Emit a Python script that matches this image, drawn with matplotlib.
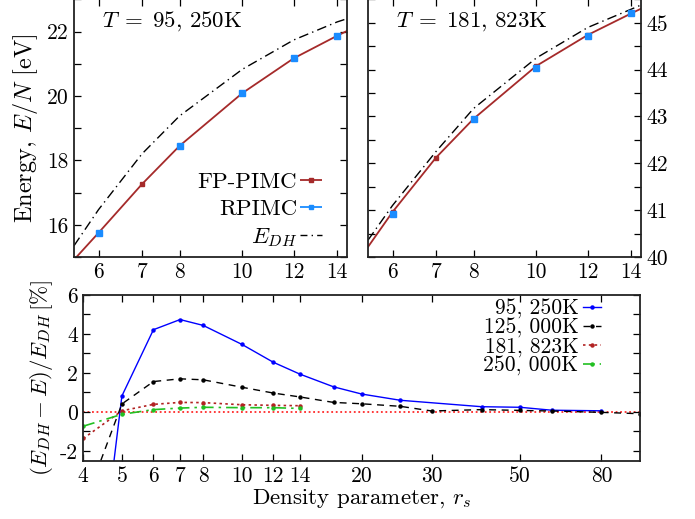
import matplotlib
matplotlib.use("Agg")
import matplotlib.pyplot as plt
from matplotlib.ticker import FixedLocator, NullLocator, FixedFormatter, NullFormatter

plt.rcParams["font.family"] = "serif"
plt.rcParams["font.serif"] = ["cmr10"]
plt.rcParams["mathtext.fontset"] = "cm"
plt.rcParams["axes.unicode_minus"] = False
plt.rcParams["axes.formatter.use_mathtext"] = True

# ---- energies per particle [eV] ----
rs_fp = [5, 6, 7, 8, 10, 12, 14, 17]
fp_95 = [14.0, 15.75, 17.26, 18.45, 20.09, 21.17, 21.87, 22.7]
fp_181 = [39.4, 40.96, 42.12, 42.95, 44.08, 44.74, 45.20, 45.76]

rs_rp = [6, 8, 10, 12, 14]
rp_95 = [15.73, 18.45, 20.09, 21.18, 21.87]
rp_181 = [40.92, 42.95, 44.03, 44.72, 45.21]

rs_dh = [5.5, 6, 7, 8, 10, 12, 14, 14.5]
dh_95 = [15.35, 16.47, 18.2, 19.38, 20.83, 21.74, 22.3, 22.4]
dh_181 = [40.36, 41.1, 42.25, 43.17, 44.25, 44.9, 45.29, 45.38]

# ---- relative deviation from Debye-Hueckel [%] ----
rs_95 = [4, 5, 6, 7, 8, 10, 12, 14, 17, 20, 25, 40, 50, 60, 80]
dev_95 = [-15.4, 0.82, 4.22, 4.74, 4.44, 3.47, 2.55, 1.94, 1.29, 0.92, 0.60, 0.27, 0.24, 0.09, 0.06]
rs_125 = [4, 5, 6, 7, 8, 10, 12, 14, 17, 20, 25, 30, 40, 50, 60, 80, 100]
dev_125 = [-4.9, 0.41, 1.56, 1.70, 1.65, 1.27, 0.97, 0.77, 0.49, 0.42, 0.29, 0.05, 0.12, 0.08, 0.05, -0.02, -0.09]
rs_181 = [4, 5, 6, 7, 8, 10, 12, 14]
dev_181 = [-1.36, 0.06, 0.39, 0.49, 0.48, 0.37, 0.34, 0.32]
rs_250 = [4, 5, 6, 7, 8, 10, 12, 14]
dev_250 = [-0.73, -0.12, 0.12, 0.20, 0.24, 0.22, 0.22, 0.18]

top_xticks = [6, 7, 8, 10, 12, 14]
bot_xticks = [4, 5, 6, 7, 8, 10, 12, 14, 20, 30, 50, 80]
left_yticks = [16, 18, 20, 22]
right_yticks = [40, 41, 42, 43, 44, 45]
dev_yticks = [-2, 0, 2, 4, 6]

C_FP = "#a52a2a"
C_RP = "#1a8cff"
TICK_FS = 15.5
TEXT_FS = 16.5

W, H = 695, 519
fig = plt.figure(figsize=(W / 100, H / 100), dpi=100)


def box(x0, y0, x1, y1):
    return [x0 / W, (H - y1) / H, (x1 - x0) / W, (y1 - y0) / H]


def style(ax, xt, yt, yminor, right=False):
    ax.set_xscale("log")
    ax.xaxis.set_major_locator(FixedLocator(xt))
    ax.xaxis.set_major_formatter(FixedFormatter([str(v) for v in xt]))
    ax.xaxis.set_minor_locator(NullLocator())
    ax.yaxis.set_major_locator(FixedLocator(yt))
    ax.yaxis.set_major_formatter(FixedFormatter([str(v) for v in yt]))
    ax.yaxis.set_minor_locator(FixedLocator(yminor))
    ax.yaxis.set_minor_formatter(NullFormatter())
    ax.tick_params(which="both", direction="in", top=True, right=True,
                   length=5, width=0.9, labelsize=TICK_FS, pad=4)
    if right:
        ax.tick_params(axis="y", labelleft=False, labelright=True)
    for s in ax.spines.values():
        s.set_linewidth(1.3)
        s.set_color("#222222")


def energy_panel(ax, fp, rp, dh, label):
    ax.plot(rs_fp, fp, "-", color=C_FP, lw=1.3, zorder=2)
    ax.plot(rs_fp, fp, "s", color=C_FP, ms=3.5, zorder=3)
    ax.plot(rs_rp, rp, "s", color=C_RP, ms=4, zorder=4)
    ax.plot(rs_dh, dh, color="black", lw=1.0, dashes=(7, 3, 1, 3), zorder=2)
    ax.text(0.103, 0.893, label, transform=ax.transAxes, fontsize=TEXT_FS,
            ha="left", va="baseline")


# ---- top left: T = 95,250 K ----
ax1 = fig.add_axes(box(74, -0.6, 347, 257))
energy_panel(ax1, fp_95, rp_95, dh_95, r"$T\;=\;95,\,250$K")
ax1.set_xlim(5.5, 14.5)
ax1.set_ylim(15, 23)
style(ax1, top_xticks, left_yticks, [15, 17, 19, 21, 23])
ax1.set_ylabel(r"Energy, $E/N$ [eV]", fontsize=17.5, labelpad=5)

h_fp = ax1.errorbar([], [], xerr=[], fmt="s", ms=3.5, color=C_FP, capsize=3,
                    elinewidth=1.3, label="FP-PIMC")
h_rp = ax1.errorbar([], [], xerr=[], fmt="s", ms=3.5, color=C_RP, capsize=3,
                    elinewidth=1.3, label="RPIMC")
h_dh, = ax1.plot([], [], color="black", lw=1.0, dashes=(5, 3, 1, 3),
                 label=r"$E_{DH}$")
ax1.legend(handles=[h_fp, h_rp, h_dh], loc="lower right",
           bbox_to_anchor=(0.91, 0.03), frameon=False, fontsize=TEXT_FS,
           markerfirst=False, handlelength=1.0, handletextpad=0.1,
           labelspacing=0.32, borderpad=0, borderaxespad=0)

# ---- top right: T = 181,823 K ----
ax2 = fig.add_axes(box(368, -0.6, 641, 257))
energy_panel(ax2, fp_181, rp_181, dh_181, r"$T\;=\;181,\,823$K")
ax2.set_xlim(5.5, 14.5)
ax2.set_ylim(40, 45.5)
style(ax2, top_xticks, right_yticks,
      [40.5, 41.5, 42.5, 43.5, 44.5, 45.5], right=True)

# ---- bottom: relative deviation ----
ax3 = fig.add_axes(box(83.3, 295, 640, 460.7))
ax3.axhline(0, color="#ff2a2a", lw=1.3, dashes=(1, 1.5), zorder=1)
l95, = ax3.plot(rs_95, dev_95, "-", color="#0000ff", lw=1.0,
                marker="o", ms=2.2, label="95, 250K")
l125, = ax3.plot(rs_125, dev_125, color="black", lw=1.0, dashes=(5, 4),
                 marker="o", ms=2.2, label="125, 000K")
l181, = ax3.plot(rs_181, dev_181, color="#b22222", lw=1.2, dashes=(1.5, 2),
                 marker="o", ms=2.2, label="181, 823K")
l250, = ax3.plot(rs_250, dev_250, color="#22c022", lw=1.2, dashes=(7, 3, 1.5, 3),
                 marker="o", ms=2.2, label="250, 000K")
ax3.set_xlim(4, 100)
ax3.set_ylim(-2.5, 6)
style(ax3, bot_xticks, dev_yticks, [-1, 1, 3, 5])
ax3.set_xlabel(r"Density parameter, $r_s$", fontsize=TEXT_FS, labelpad=1)
ax3.set_ylabel(r"$(E_{DH}-E)/E_{DH}\,$[%]", fontsize=TEXT_FS, labelpad=3)
ax3.legend(handles=[l95, l125, l181, l250], loc="upper right",
           bbox_to_anchor=(0.93, 0.975), frameon=False, fontsize=15.5,
           markerfirst=False, handlelength=0.85, handletextpad=0.2,
           labelspacing=-0.05, borderpad=0, borderaxespad=0)

fig.savefig("out.png", dpi=100)
